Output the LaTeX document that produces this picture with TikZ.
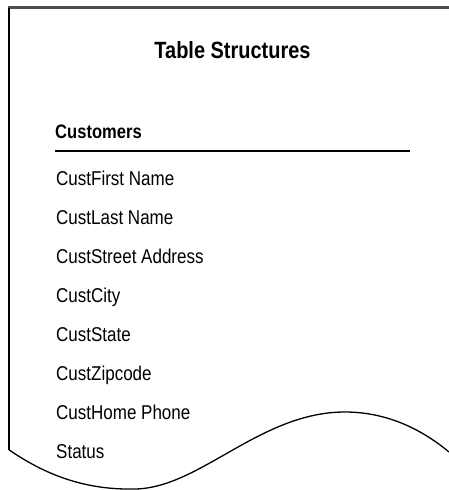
\documentclass[tikz,border=0pt]{standalone}
\usepackage{fontspec}
\setmainfont{Liberation Sans}[FakeStretch=0.85]
\usepackage{tikz}
\usetikzlibrary{positioning}

\begin{document}
\begin{tikzpicture}[
    x=1pt, y=-1pt,
    title/.style={anchor=base, inner sep=0pt, font=\fontsize{23.5}{28}\selectfont\bfseries},
    tablename/.style={anchor=base west, inner sep=0pt, font=\fontsize{19.5}{23}\selectfont\bfseries},
    field/.style={anchor=base west, inner sep=0pt, font=\fontsize{20}{24}\selectfont},
    border/.style={draw=black, line width=1.3pt},
    rule/.style={draw=black, line width=1.4pt}
  ]
    \useasboundingbox (0,0) rectangle (449,490);
    % page outline with torn bottom edge
    \draw[draw=black!70, line width=2.5pt] (8,7.5) -- (449,7.5);
    \draw[border, line width=2pt] (9.3,8) -- (9.3,450);
    \draw[border] (9.3,450) .. controls (50,478) and (90,490) .. (135,489)
      .. controls (200,488) and (260,412) .. (345,412)
      .. controls (390,412) and (425,432) .. (449,452);
    \node[title] (head) at (232.5,58) {Table Structures};
    \node[tablename] (tbl) at (55,138.5) {Customers};
    \coordinate (ruleL) at (55,151);
    \coordinate (ruleR) at (410,151);
    \draw[rule] (ruleL) -- (ruleR);
    \node[field] (f1) at (56,185) {CustFirst Name};
    \node[field] (f2) at (56,224) {CustLast Name};
    \node[field] (f3) at (56,263) {CustStreet Address};
    \node[field] (f4) at (56,302) {CustCity};
    \node[field] (f5) at (56,341) {CustState};
    \node[field] (f6) at (56,380) {CustZipcode};
    \node[field] (f7) at (56,419) {CustHome Phone};
    \node[field] (f8) at (56,458) {Status};
\end{tikzpicture}
\end{document}
